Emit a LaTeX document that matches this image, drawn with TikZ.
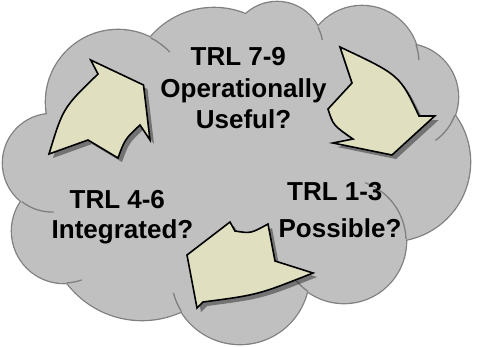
\documentclass[tikz,border=0pt]{standalone}
\usepackage{fontspec}
\setmainfont{Liberation Sans}
\usetikzlibrary{shadows}

\definecolor{cloudgray}{RGB}{192,192,192}
\definecolor{cloudedge}{RGB}{128,128,128}
\definecolor{arrowfill}{RGB}{224,224,192}

\begin{document}
\begin{tikzpicture}[
    x=1pt, y=-1pt,
    puff/.style={fill=cloudgray},
    puffedge/.style={draw=cloudedge, line width=2.6pt},
    seam/.style={draw=cloudedge, line width=1.3pt},
    cyclearrow/.style={fill=arrowfill, draw=black, line width=1.6pt,
        drop shadow={shadow xshift=4pt, shadow yshift=-4pt, fill=black, opacity=0.4}},
    stage/.style={inner sep=0pt, anchor=north, align=center},
]
    \useasboundingbox (0,0) rectangle (478,346);

    % Cloud: outline of the puffs first, then the fill on top
    \foreach \cx/\cy/\rad in {118/102/72, 214/91/83, 277/48/46, 362/63/57, 405/97/53,
                              391/162/79, 344/241/62, 240/275/69, 142/226/94, 64/231/52, 52/163/49}
        \draw[puffedge] (\cx,\cy) circle (\rad);
    \foreach \cx/\cy/\rad in {118/102/72, 214/91/83, 277/48/46, 362/63/57, 405/97/53,
                              391/162/79, 344/241/62, 240/275/69, 142/226/94, 64/231/52, 52/163/49}
        \fill[puff] (\cx,\cy) circle (\rad);
    \fill[puff] (118,102) -- (214,91) -- (277,48) -- (362,63) -- (405,97) -- (391,162)
        -- (344,241) -- (240,275) -- (142,226) -- (64,231) -- (52,163) -- cycle;

    % Seams inside the cloud
    \foreach \cx/\cy/\rad/\a/\b in {118/102/72/-63/-44, 277/48/46/-27/-10, 362/63/57/-19/-3,
                                    405/97/53/20/55, 344/241/62/-70/-2, 344/241/62/126/140,
                                    240/275/69/148/165, 64/231/52/87/70, 52/163/49/128/88}
        \draw[seam] (\cx,\cy) ++(\a:\rad) arc[start angle=\a, end angle=\b, radius=\rad];

    % Cycle arrows
    \draw[cyclearrow] (49,154) .. controls (63.1,107.7) .. (98,74) -- (90.7,60) -- (143.5,85)
        -- (150,140) -- (140,125) .. controls (124.9,139.2) .. (118,158) -- (88,140) -- cycle;
    \draw[cyclearrow] (340,47) .. controls (399.8,75.1) .. (419,116) -- (434.7,116) -- (392,155)
        -- (333,143) -- (353,139) .. controls (333.2,125.3) .. (328,109) -- (352,83) -- cycle;
    \draw[cyclearrow] (313,273) .. controls (258,294.8) .. (203,302) -- (197,308) -- (187,255)
        -- (230,222) -- (235,231) .. controls (250.8,233.5) .. (268,224) -- (275,261) -- cycle;

    % Stage labels
    \node[stage, font=\bfseries\fontsize{26}{31.7}\selectfont] (useful) at (243.5,47)
        {TRL 7-9\hspace*{0.4em}\\Operationally\\Useful?};
    \node[stage, font=\bfseries\fontsize{26}{30}\selectfont] (integrated) at (122.5,190)
        {TRL 4-6\hspace*{0.4em}\\Integrated?};
    \node[stage, font=\bfseries\fontsize{26}{36.7}\selectfont] (possible) at (340,182)
        {TRL 1-3\hspace*{0.4em}\\Possible?};
\end{tikzpicture}
\end{document}
